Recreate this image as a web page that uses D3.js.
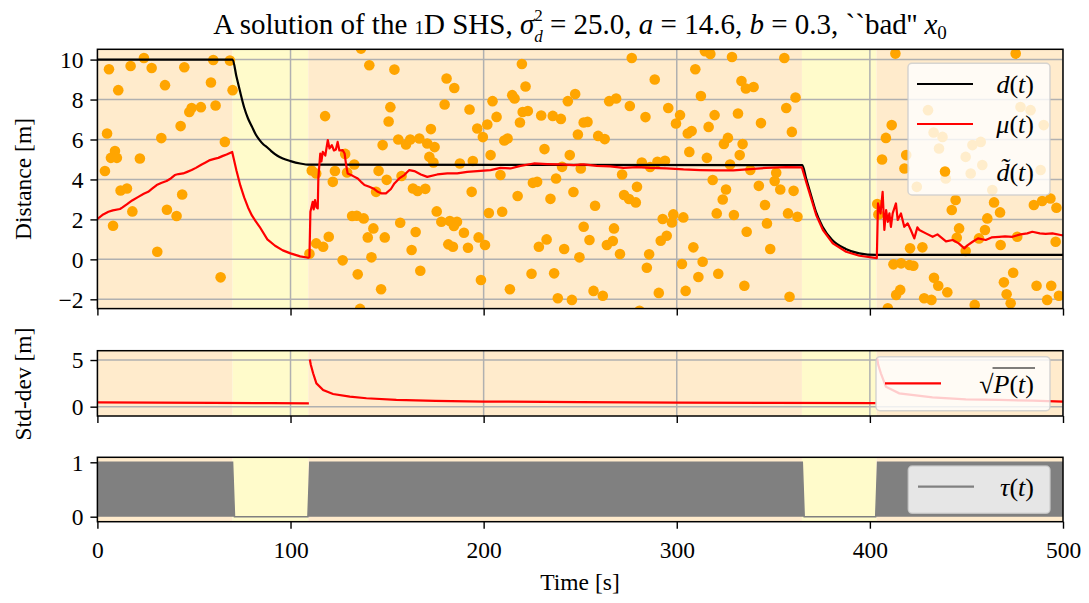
<!DOCTYPE html>
<html><head><meta charset="utf-8">
<script src="https://cdn.jsdelivr.net/npm/d3@7"></script>
<style>
body{margin:0;background:#fff}
text{font-family:"Liberation Serif","DejaVu Serif",serif;fill:#000}
</style>
</head><body>
<svg id="c" width="1089" height="603"></svg>
<script>
// ---------------- DATA ----------------
const xTicks = [0,100,200,300,400,500];
const yTicksTop = [-2,0,2,4,6,8,10];
const yTicksMid = [0,5];
const yTicksBot = [0,1];

// phases (tau = 1 -> orange background, tau = 0 -> yellow background)
const phaseStart = [0, 70, 109.2, 364.8, 403.4];
const phaseEnd   = [70, 109.2, 364.8, 403.4, 500];
const phaseOn    = [1, 0, 1, 0, 1];

// true distance d(t)
const dT = [0,70,72,74,76,78,80,82,84,86,88,90,93,96,100,105,110,
            365,367,369.5,372,375.5,380.5,387.5,394.5,403,500];
const dV = [10,10,9.15,8.35,7.6,7.05,6.65,6.25,5.97,5.75,5.6,5.42,5.2,5.05,4.92,4.8,4.74,
            4.72,4.05,3.22,2.4,1.63,0.97,0.52,0.3,0.22,0.22];

// estimate mu(t)
const muT = [0,3,5.7,8,11.7,13,15.2,18,21.2,24,26.3,28.5,30.7,33,35.8,38,40.1,42,44.4,46.5,48.8,51,54,56,58.3,60.5,62.6,65,66.9,69.8,
  72,74,76,78,80,82,84,88,92,96,100,105,109.2,
  109.8,110.3,111.5,112,112.7,113.5,114.1,114.4,115.4,116,116.7,118,119.3,120.2,121.4,122.5,123.5,124.4,125.3,127,128,128.8,129.6,
  132.2,134.8,136.5,138.3,140.8,143.4,145.2,147.2,149.4,152,153.8,156.3,158.9,161.5,164.1,167.5,170.8,176,181.2,186.3,191.5,198.4,
  203.6,208.7,213.9,219.1,226,232.9,239.8,246.7,251.8,258.6,265.5,272.4,279.3,286.2,294.8,303.5,312.1,320.7,329.3,336.2,346.3,356.7,364.8,
  367,369.6,372.2,375.7,380.8,387.7,394.6,403.6,
  404.2,405.5,406.6,407.5,408.4,409.3,410.1,410.9,411.8,413.5,414.4,416.1,417.8,419.6,421.2,423,424.6,425.6,429,432.5,435,439.4,442.9,
  446,448.9,450.5,453.2,456,460,463,466.9,470,473.8,478,481.5,484.1,488,491,494.5,498.8,500];
const muV = [2.02,2.25,2.38,2.45,2.52,2.6,2.75,2.95,3.13,3.28,3.38,3.55,3.72,3.82,3.92,4.05,4.22,4.27,4.3,4.38,4.47,4.58,4.75,4.85,4.97,5.03,5.08,5.18,5.25,5.38,
  4.45,3.7,3.1,2.6,2.2,1.9,1.63,1.0,0.68,0.45,0.3,0.15,0.08,
  0.12,2.38,2.88,2.5,2.97,2.6,2.55,4.05,5.3,4.9,5.38,5.2,5.97,5.55,5.72,5.45,5.5,5.88,5.45,5.47,5.3,4.72,4.3,
  4.18,4.05,3.88,3.72,3.63,3.52,3.38,3.3,3.3,3.52,3.8,4.05,4.22,4.47,4.42,4.25,4.13,4.25,4.3,4.3,4.38,4.43,
  4.47,4.58,4.55,4.68,4.8,4.77,4.75,4.72,4.75,4.68,4.65,4.58,4.62,4.58,4.55,4.5,4.47,4.45,4.45,4.5,4.58,4.62,4.6,
  3.88,3.05,2.22,1.47,0.8,0.38,0.18,0.06,
  2.8,2.3,3.38,1.47,2.47,1.88,2.3,1.63,2.3,2.8,1.97,2.3,1.63,1.8,1.47,1.05,1.6,1.47,1.3,1.13,1.25,0.9,0.97,
  0.8,0.55,0.7,0.88,1.05,0.97,1.1,1.13,1.15,1.13,1.25,1.3,1.38,1.3,1.28,1.3,1.22,1.2];

// noisy measurements d~(t)
const obsT = [6.0,17.2,24.1,28.1,45.0,60.0,68.6,10.8,35.0,58.8,70.0,47.6,48.8,53.6,61.2,43.1,5.0,33.1,66.0,9.1,7.0,10.1,22.0,3.9,12.0,15.3,43.9,18.1,36.0,41.0,8.1,31.0,63.8,
  136.5,140.8,153.8,117.9,151.7,150.8,147.7,155.8,159.8,162.0,166.7,128.3,133.0,111.0,113.3,123.0,121.9,129.3,145.6,149.8,144.3,157.5,163.4,165.8,131.9,134.3,137.9,156.8,142.9,140.0,148.8,164.8,119.8,113.3,116.9,109.8,127.0,141.9,162.7,167.2,134.8,146.9,136.0,
  180.8,184.8,179.8,192.7,172.7,170.8,174.6,171.9,174.0,187.7,194.4,196.7,199.6,201.9,204.6,206.7,203.6,208.7,210.7,212.4,214.8,216.0,219.8,221.7,220.2,222.9,218.8,229.8,235.8,240.0,243.6,247.4,251.8,248.8,231.5,244.6,240.6,250.3,225.5,227.7,237.5,246.5,217.6,234.6,193.8,169.8,175.7,178.1,182.5,186.2,184.6,189.8,202.7,209.6,197.4,200.7,181.7,184.1,191.9,232.6,228.6,241.7,249.6,251.8,198.6,213.6,224.8,236.5,238.4,245.7,
  276.7,288.6,309.6,314.6,317.4,328.6,333.5,335.8,312.5,265.0,268.6,275.7,283.8,295.6,301.7,299.6,253.8,319.6,331.7,316.5,305.7,307.7,259.3,262.7,324.4,326.5,334.1,306.5,315.6,332.6,281.9,286.2,290.0,293.9,327.6,271.7,318.6,279.4,272.7,275.3,278.8,257.7,325.5,323.8,320.7,329.6,292.7,298.2,297.5,303.4,336.2,254.8,267.5,263.8,266.9,270.6,291.7,294.8,308.6,285.7,284.5,302.7,313.4,311.2,321.5,335.0,256.9,261.7,290.7,304.6,280.7,
  355.7,339.8,361.5,356.7,343.6,359.6,338.1,351.5,350.7,342.5,353.6,360.5,345.7,357.6,362.5,346.7,348.4,358.4,
  411.3,408.3,406.3,418.8,417.9,403.8,404.4,412.2,416.2,420.5,415.7,413.6,409.3,413.2,
  475.5,430.1,433.0,437.6,435.8,449.6,453.1,457.4,452.2,458.2,478.0,483.2,490.0,488.4,424.3,439.3,463.4,
  444.4,442.4,464.3,467.4,460.8,459.6,484.9,489.2,493.5,496.6,446.2,445.0,427.2,420.8,456.5,449.6,467.7,476.3,496.2,
  422.5,433.2,435.4,440.1,428.1,431.9,454.3,469.4,474.2,470.8,472.9,486.3,493.9,491.8,497.9];
const obsV = [9.52,9.68,10.08,9.58,9.62,9.98,9.95,8.47,8.72,8.85,8.47,7.38,7.58,7.62,7.7,6.67,6.3,6.07,5.88,5.42,5.08,5.08,5.05,4.42,3.45,3.55,3.25,2.4,2.48,2.17,1.68,0.38,-0.9,
  10.55,9.72,9.5,7.17,7.62,6.9,5.72,6.0,5.75,6.0,6.05,5.28,4.75,4.45,4.3,4.42,3.88,4.35,4.43,3.98,3.38,4.17,3.55,3.42,2.17,2.18,2.05,1.83,1.55,1.1,1.1,1.37,1.13,0.8,0.63,0.28,-0.05,0.1,0.47,-0.57,-0.75,-1.5,-2.48,
  9.05,8.58,7.75,7.5,6.52,5.8,5.62,5.13,4.85,4.8,4.92,6.55,6.12,6.75,7.92,7.13,5.22,4.22,5.95,6.05,8.22,8.05,9.78,8.65,7.38,7.43,6.85,7.2,7.18,7.03,7.92,8.28,6.85,6.25,5.52,5.22,4.63,4.55,3.83,3.88,4.05,3.37,3.17,3.03,3.38,3.53,2.4,1.88,1.92,1.88,1.67,1.33,2.32,2.38,1.1,0.72,0.75,0.63,0.58,1.0,0.63,0.52,0.1,1.63,-1.03,-1.5,-0.72,-0.7,-1.95,-2.03,
  10.08,9.0,9.52,10.42,10.28,10.13,8.93,8.55,8.18,7.92,8.05,7.68,7.12,7.58,7.22,6.8,6.88,7.22,7.3,6.63,6.3,6.42,6.18,6.02,5.78,6.08,5.77,5.38,5.08,5.22,4.85,4.62,4.88,4.93,4.75,4.25,3.97,3.63,3.22,3.02,2.85,2.68,3.5,3.0,2.3,2.22,2.02,2.25,1.85,2.1,1.38,0.97,1.55,0.72,0.92,0.27,0.93,1.18,0.6,0.25,-0.42,-0.23,-0.12,-0.88,-0.72,-1.32,-1.58,-1.82,-1.68,-1.58,-2.57,
  10.08,8.63,8.1,7.58,6.82,6.38,4.47,4.33,3.92,3.68,3.5,3.43,2.72,2.3,2.13,1.8,0.52,-1.87,
  6.72,6.08,5.0,5.22,4.55,2.77,2.25,-0.25,-0.2,-0.28,-1.53,-1.78,-2.45,10.3,
  10.3,7.47,6.35,6.13,5.55,5.13,5.72,5.88,4.3,4.72,7.63,7.47,6.72,4.47,3.63,4.05,3.47,
  2.97,2.47,2.85,2.35,2.05,1.47,2.72,2.92,3.05,2.58,1.55,1.08,0.6,0.55,1.05,0.42,0.72,1.13,0.88,
  -0.32,-0.92,-1.32,-1.65,-1.95,-2.03,-2.28,-1.15,-0.67,-1.75,-2.2,-1.32,-1.32,-2.03,-1.82];

// std-dev sqrt(P(t)); null = break between filter restarts
const sdT = [0,30,60,90,109.5, 109.8, 110,110.5,111.7,113.4,116.9,122,130.7,139.3,154.8,175,200,250,300,350,403, 403.3, 403.8,404.3,405.7,408.3,415.2,432.4,449.7,466.9,484.2,500];
const sdV = [0.47,0.44,0.41,0.38,0.36, null, 5.05,4.5,3.58,2.5,1.79,1.36,1.07,0.9,0.72,0.62,0.55,0.48,0.44,0.41,0.38, null, 5.18,4.5,3.58,2.14,1.43,1.0,0.79,0.72,0.64,0.54];

// tau(t)
const tauT = [0,70,71,109,110,365,366,403,404,500];
const tauV = [1,1,0,0,1,1,0,0,1,1];

// ---------------- DRAW ----------------
const svg = d3.select("#c");
const FS = 23.5;
const x = d3.scaleLinear().domain([0,500]).range([97.4,1063]);
const P = {
  top: {y0:49.3, y1:308.6, dom:[-2.465,10.515]},
  mid: {y0:350.7, y1:416.0, dom:[-1.0,6.0]},
  bot: {y0:457.3, y1:521.7, dom:[-0.092,1.092]}
};
const ORANGE_BG = "#ffebcc", YELLOW_BG = "#fffbcb";
const defs = svg.append("defs");

function panel(key, yTicks, grid, showX){
  const p = P[key];
  const y = d3.scaleLinear().domain(p.dom).range([p.y1,p.y0]);
  const g = svg.append("g");
  defs.append("clipPath").attr("id","clip-"+key).append("rect")
    .attr("x",x(0)).attr("y",p.y0).attr("width",x(500)-x(0)).attr("height",p.y1-p.y0);
  const inner = g.append("g").attr("clip-path","url(#clip-"+key+")");
  inner.selectAll("rect.ph").data(phaseStart.map((s,i)=>({s,e:phaseEnd[i],on:phaseOn[i]})))
    .join("rect").attr("x",d=>x(d.s)).attr("width",d=>x(d.e)-x(d.s))
    .attr("y",p.y0).attr("height",p.y1-p.y0)
    .attr("fill",d=>d.on? ORANGE_BG: YELLOW_BG);
  if(grid){
    inner.selectAll("line.gx").data(xTicks).join("line")
      .attr("x1",d=>x(d)).attr("x2",d=>x(d)).attr("y1",p.y0).attr("y2",p.y1)
      .attr("stroke","#b0b0b0").attr("stroke-width",1.5);
    inner.selectAll("line.gy").data(yTicks).join("line")
      .attr("x1",x(0)).attr("x2",x(500)).attr("y1",d=>y(d)).attr("y2",d=>y(d))
      .attr("stroke","#b0b0b0").attr("stroke-width",1.5);
  }
  const ax = g.append("g").attr("transform",`translate(0,${p.y1})`)
    .call(d3.axisBottom(x).tickValues(xTicks).tickSize(7).tickFormat(showX? d3.format("d"): ""));
  const ay = g.append("g").attr("transform",`translate(${x(0)},0)`)
    .call(d3.axisLeft(y).tickValues(yTicks).tickSize(7).tickFormat(d=> d<0? "\u2212"+Math.abs(d): d));
  [ax,ay].forEach(a=>{
    a.select(".domain").remove();
    a.selectAll(".tick line").attr("stroke","#000").attr("stroke-width",1.4);
    a.selectAll(".tick text").attr("font-size",FS).attr("font-family",'"Liberation Serif",serif').attr("fill","#000");
  });
  ax.selectAll(".tick text").attr("dy",null).attr("y",36.5);
  ay.selectAll(".tick text").attr("x",-14).attr("dy","0.33em");
  return {g, inner, y, p};
}

const pTop = panel("top", yTicksTop, true, false);
const pMid = panel("mid", yTicksMid, true, false);
const pBot = panel("bot", yTicksBot, false, true);

pTop.inner.selectAll("circle.obs").data(obsT.map((t,i)=>[t,obsV[i]])).join("circle")
  .attr("cx",d=>x(d[0])).attr("cy",d=>pTop.y(d[1])).attr("r",5.3).attr("fill","#ffa500");
pTop.inner.append("path").datum(dT.map((t,i)=>[t,dV[i]]))
  .attr("d",d3.line().x(d=>x(d[0])).y(d=>pTop.y(d[1])).curve(d3.curveMonotoneX))
  .attr("fill","none").attr("stroke","#000").attr("stroke-width",2.2);
pTop.inner.append("path").datum(muT.map((t,i)=>[t,muV[i]]))
  .attr("d",d3.line().x(d=>x(d[0])).y(d=>pTop.y(d[1])))
  .attr("fill","none").attr("stroke","#ff0000").attr("stroke-width",2.2).attr("stroke-linejoin","round");

pMid.inner.append("path").datum(sdT.map((t,i)=>[t,sdV[i]]))
  .attr("d",d3.line().defined(d=>d[1]!==null).x(d=>x(d[0])).y(d=>pMid.y(d[1])))
  .attr("fill","none").attr("stroke","#ff0000").attr("stroke-width",2.2);

const tauData = tauT.map((t,i)=>[t,tauV[i]]);
pBot.inner.append("path").datum(tauData)
  .attr("d",d3.area().x(d=>x(d[0])).y0(pBot.y(0)).y1(d=>pBot.y(d[1])))
  .attr("fill","#808080");
pBot.inner.append("path").datum(tauData)
  .attr("d",d3.line().x(d=>x(d[0])).y(d=>pBot.y(d[1])))
  .attr("fill","none").attr("stroke","#808080").attr("stroke-width",1.5);

[pTop,pMid,pBot].forEach(o=>{
  o.g.append("rect").attr("x",x(0)).attr("y",o.p.y0).attr("width",x(500)-x(0)).attr("height",o.p.y1-o.p.y0)
    .attr("fill","none").attr("stroke","#000").attr("stroke-width",1.5);
});

function legendBox(x0,y0,x1,y1){
  svg.append("rect").attr("x",x0).attr("y",y0).attr("width",x1-x0).attr("height",y1-y0)
    .attr("rx",4).attr("fill","#fff").attr("fill-opacity",0.8)
    .attr("stroke","#cccccc").attr("stroke-opacity",0.8).attr("stroke-width",1.5);
}
const LFS = 26;
function mathLabel(xr, yb, parts){
  const t = svg.append("text").attr("x",xr).attr("y",yb).attr("text-anchor","end").attr("font-size",LFS);
  parts.forEach(([s,it])=>t.append("tspan").attr("font-style",it?"italic":"normal").text(s));
  return t;
}
legendBox(908,63.3,1050,195);
svg.append("line").attr("x1",917).attr("x2",973).attr("y1",84).attr("y2",84).attr("stroke","#000").attr("stroke-width",2.2);
mathLabel(1034,93,[["d",1],["(",0],["t",1],[")",0]]);
svg.append("line").attr("x1",917).attr("x2",973).attr("y1",124).attr("y2",124).attr("stroke","#ff0000").attr("stroke-width",2.2);
mathLabel(1034,133,[["\u03bc",1],["(",0],["t",1],[")",0]]);
svg.append("circle").attr("cx",945).attr("cy",171.5).attr("r",5.3).attr("fill","#ffa500");
mathLabel(1034,181,[["d\u0303",1],["(",0],["t",1],[")",0]]);

legendBox(876,356.7,1050,410.7);
svg.append("line").attr("x1",885).attr("x2",941).attr("y1",383.3).attr("y2",383.3).attr("stroke","#ff0000").attr("stroke-width",2.2);
const sq = mathLabel(1034,393,[["\u221a",0],["P",1],["(",0],["t",1],[")",0]]);
{
  const tb = sq.node().getBBox();
  const rad = sq.select("tspan").node().getComputedTextLength();
  svg.append("line").attr("x1",tb.x+rad-1).attr("x2",tb.x+tb.width+1).attr("y1",368).attr("y2",368)
    .attr("stroke","#000").attr("stroke-width",1.2);
}

legendBox(908.3,466,1050,513.3);
svg.append("line").attr("x1",918).attr("x2",974).attr("y1",486.7).attr("y2",486.7).attr("stroke","#808080").attr("stroke-width",2.2);
mathLabel(1034,496,[["\u03c4",1],["(",0],["t",1],[")",0]]);

svg.append("text").attr("transform","translate(31,179) rotate(-90)").attr("text-anchor","middle").attr("font-size",FS).text("Distance [m]");
svg.append("text").attr("transform","translate(31,384) rotate(-90)").attr("text-anchor","middle").attr("font-size",FS).text("Std-dev [m]");
svg.append("text").attr("x",580).attr("y",590).attr("text-anchor","middle").attr("font-size",FS).text("Time [s]");

const TFS = 29, TSM = 17;
const title = svg.append("text").attr("x",580).attr("y",34).attr("text-anchor","middle").attr("font-size",TFS);
title.append("tspan").text("A solution of the ");
title.append("tspan").attr("font-size",19).text("1");
title.append("tspan").text("D SHS, ");
title.append("tspan").attr("font-style","italic").text("\u03c3");
title.append("tspan").attr("font-size",TSM).attr("dy",-13).text("2");
title.append("tspan").attr("font-size",TSM).attr("font-style","italic").attr("dx",-8.5).attr("dy",21).text("d");
title.append("tspan").attr("dy",-8).text(" = 25.0, ");
title.append("tspan").attr("font-style","italic").text("a");
title.append("tspan").text(" = 14.6, ");
title.append("tspan").attr("font-style","italic").text("b");
title.append("tspan").text(" = 0.3, ``bad'' ");
title.append("tspan").attr("font-style","italic").text("x");
title.append("tspan").attr("font-size",19).attr("dy",5).text("0");
</script>
</body></html>
